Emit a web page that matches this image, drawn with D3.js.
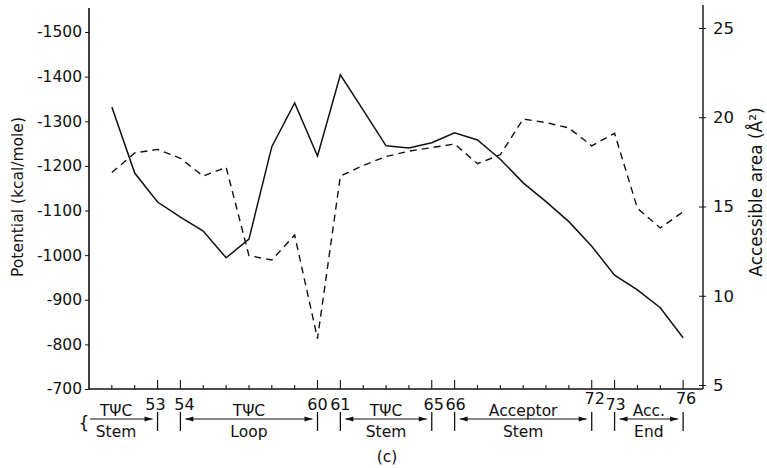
<!DOCTYPE html>
<html>
<head>
<meta charset="utf-8">
<script src="https://cdn.jsdelivr.net/npm/d3@7"></script>
<style>
  html, body { margin: 0; padding: 0; background: #fff; }
  svg text { font-family: 'DejaVu Sans', sans-serif; fill: #111; }
</style>
</head>
<body>
<div id="chart"></div>
<script>
(function () {
  'use strict';

  // nucleotide positions along the tRNA
  const POSITIONS = [51, 52, 53, 54, 55, 56, 57, 58, 59, 60, 61, 62, 63,
                     64, 65, 66, 67, 68, 69, 70, 71, 72, 73, 74, 75, 76];
  // potential (kcal/mole), solid line, left axis
  const POTENTIAL = [-1332, -1184, -1119, -1085, -1054, -994, -1036, -1243, -1341, -1222, -1404, -1325, -1245,
                     -1240, -1252, -1274, -1258, -1215, -1162, -1120, -1075, -1020, -955, -922, -882, -815];
  // accessible area (A^2), dashed line, right axis
  const AREA = [16.9, 18.0, 18.2, 17.7, 16.7, 17.2, 12.25, 12.0, 13.4, 7.6, 16.7, 17.3, 17.8,
                18.1, 18.3, 18.5, 17.4, 17.9, 19.9, 19.7, 19.4, 18.4, 19.1, 14.9, 13.8, 14.7];

  const LEFT_TICKS = [-700, -800, -900, -1000, -1100, -1200, -1300, -1400, -1500];
  const RIGHT_TICKS = [5, 10, 15, 20, 25];
  const BOUNDARIES = [53, 54, 60, 61, 65, 66, 72, 73, 76];

  // region annotations under the x axis
  const REGION_TOP = ['T\u03A8C', 'T\u03A8C', 'T\u03A8C', 'Acceptor', 'Acc.'];
  const REGION_BOTTOM = ['Stem', 'Loop', 'Stem', 'Stem', 'End'];
  const REGION_FROM = [50, 54, 61, 66, 73];
  const REGION_TO = [53, 60, 65, 72, 76];

  const W = 767, H = 468;
  const svg = d3.select('#chart').append('svg')
    .attr('width', W).attr('height', H)
    .attr('viewBox', `0 0 ${W} ${H}`);

  const x = d3.scaleLinear().domain([50, 76.87]).range([89, 703]);
  const yL = d3.scaleLinear().domain([-700, -1500]).range([389, 32]);
  const yR = d3.scaleLinear().domain([5, 25]).range([385, 28]);

  const ink = '#111';

  // --- axes frame ---
  svg.append('line').attr('x1', 89).attr('y1', 8).attr('x2', 89).attr('y2', 389)
    .attr('stroke', ink).attr('stroke-width', 1.6);
  svg.append('line').attr('x1', 703).attr('y1', 5).attr('x2', 703).attr('y2', 389)
    .attr('stroke', ink).attr('stroke-width', 1.4);
  svg.append('line').attr('x1', 89).attr('y1', 389).attr('x2', 703).attr('y2', 389)
    .attr('stroke', ink).attr('stroke-width', 1.4);

  // left ticks
  const gl = svg.append('g').attr('transform', 'translate(89,0)')
    .call(d3.axisLeft(yL).tickValues(LEFT_TICKS).tickSize(4).tickPadding(3)
      .tickFormat(d => '-' + Math.abs(d)));
  gl.select('.domain').remove();
  gl.selectAll('text').attr('font-size', 15.5).attr('font-family', 'DejaVu Sans').attr('fill', ink);
  gl.selectAll('line').attr('stroke', ink);

  // right ticks
  const gr = svg.append('g').attr('transform', 'translate(703,0)')
    .call(d3.axisRight(yR).tickValues(RIGHT_TICKS).tickSize(4).tickPadding(6));
  gr.select('.domain').remove();
  gr.selectAll('line').attr('x1', -4).attr('x2', 3).attr('stroke', ink);
  gr.selectAll('text').attr('font-size', 16.5).attr('font-family', 'DejaVu Sans').attr('fill', ink);

  // bottom ticks (inward), taller at region boundaries
  const xt = d3.range(51, 77);
  svg.append('g').selectAll('line').data(xt).join('line')
    .attr('x1', d => x(d)).attr('x2', d => x(d))
    .attr('y1', 389)
    .attr('y2', d => BOUNDARIES.includes(d) ? 380 : 385)
    .attr('stroke', ink).attr('stroke-width', 1.1);

  // --- series ---
  const solid = d3.line().x((d, i) => x(POSITIONS[i])).y(d => yL(d));
  svg.append('path').datum(POTENTIAL).attr('d', solid)
    .attr('fill', 'none').attr('stroke', ink).attr('stroke-width', 1.5)
    .attr('stroke-linejoin', 'miter');

  const dashed = d3.line().x((d, i) => x(POSITIONS[i])).y(d => yR(d));
  svg.append('path').datum(AREA).attr('d', dashed)
    .attr('fill', 'none').attr('stroke', ink).attr('stroke-width', 1.4)
    .attr('stroke-dasharray', '7,5');

  // --- axis titles ---
  svg.append('text')
    .attr('transform', 'translate(23,197) rotate(-90)')
    .attr('text-anchor', 'middle').attr('font-size', 15.5)
    .text('Potential (kcal/mole)');

  svg.append('text')
    .attr('transform', 'translate(762,192) rotate(-90)')
    .attr('text-anchor', 'middle').attr('font-size', 17)
    .text('Accessible  area  (\u00C5\u00B2)');

  // --- region annotations ---
  const defs = svg.append('defs');
  defs.append('marker').attr('id', 'ah').attr('viewBox', '0 0 10 10')
    .attr('refX', 10).attr('refY', 5).attr('markerWidth', 14).attr('markerHeight', 8)
    .attr('markerUnits', 'userSpaceOnUse').attr('orient', 'auto-start-reverse')
    .append('path').attr('d', 'M0,2 L10,5 L0,8 Z').attr('fill', ink);

  const ann = svg.append('g');
  const ARROW_Y = 419;

  // boundary bars and numbers
  ann.selectAll('.bar').data(BOUNDARIES).join('line')
    .attr('x1', d => x(d)).attr('x2', d => x(d))
    .attr('y1', 412).attr('y2', 431)
    .attr('stroke', ink).attr('stroke-width', 1.3);

  const NUM_DX = { 53: -2, 54: 4, 60: 0, 61: 0, 65: 2, 66: 1, 72: 3, 73: 1, 76: 3 };
  ann.selectAll('.num').data(BOUNDARIES).join('text')
    .attr('x', d => x(d) + NUM_DX[d])
    .attr('y', d => d === 72 || d === 76 ? 404 : 410)
    .attr('text-anchor', 'middle').attr('font-size', 16)
    .text(d => d);

  REGION_FROM.forEach((from, i) => {
    const to = REGION_TO[i];
    const first = i === 0;
    const x0 = first ? 90 : x(from) + 5;
    const x1 = x(to) - 5;
    const cx = first ? 116 : (x(from) + x(to)) / 2;

    ann.append('line')
      .attr('x1', x0).attr('x2', x1).attr('y1', ARROW_Y).attr('y2', ARROW_Y)
      .attr('stroke', ink).attr('stroke-width', 1.2)
      .attr('marker-end', 'url(#ah)')
      .attr('marker-start', first ? null : 'url(#ah)');

    ann.append('text').attr('x', cx).attr('y', 416)
      .attr('text-anchor', 'middle').attr('font-size', 15.5)
      .text(REGION_TOP[i]);
    ann.append('text').attr('x', cx).attr('y', 437)
      .attr('text-anchor', 'middle').attr('font-size', 15.5)
      .text(REGION_BOTTOM[i]);
  });

  // brace at far left
  ann.append('text').attr('x', 84).attr('y', 429)
    .attr('text-anchor', 'middle').attr('font-size', 17).text('{');

  svg.append('text').attr('x', 387).attr('y', 462)
    .attr('text-anchor', 'middle').attr('font-size', 15.5).text('(c)');
})();
</script>
</body>
</html>
